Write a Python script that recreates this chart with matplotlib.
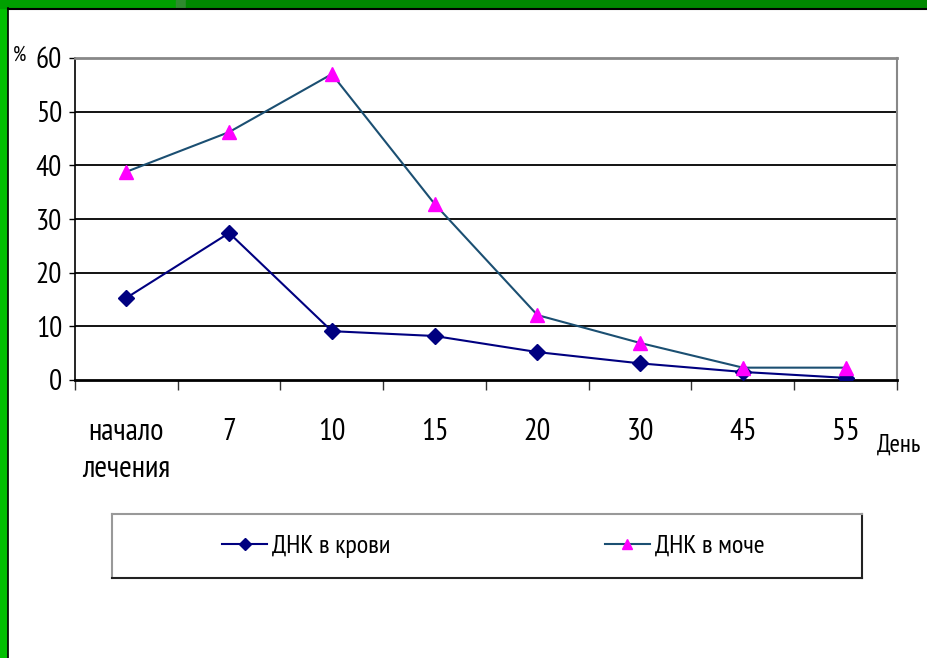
import matplotlib.pyplot as plt
import matplotlib.patches as patches

# data
categories = ["начало\nлечения", "7", "10", "15", "20", "30", "45", "55"]
blood = [15.3, 27.4, 9.1, 8.2, 5.2, 3.1, 1.5, 0.4]
urine = [38.8, 46.2, 57.0, 32.8, 12.1, 6.9, 2.3, 2.3]
yticks = [0, 10, 20, 30, 40, 50, 60]

plt.rcParams['font.family'] = ['PT Sans Narrow', 'DejaVu Sans']

W, H = 928, 658
fig = plt.figure(figsize=(W / 100, H / 100), dpi=100)
fig.patch.set_facecolor("white")

# green slide frame
fig.add_artist(patches.Rectangle((0, 0), 7 / W, 1, transform=fig.transFigure, color="#00C000", zorder=0))
fig.add_artist(patches.Rectangle((0, 1 - 8 / H), 176 / W, 8 / H, transform=fig.transFigure, color="#00A000", zorder=0))
fig.add_artist(patches.Rectangle((176 / W, 1 - 8 / H), 10 / W, 8 / H, transform=fig.transFigure, color="#2E8B2E", zorder=0))
fig.add_artist(patches.Rectangle((186 / W, 1 - 8 / H), 1, 8 / H, transform=fig.transFigure, color="#008800", zorder=0))
fig.add_artist(plt.Line2D([7.5 / W, 7.5 / W], [0, 1 - 8 / H], transform=fig.transFigure, color="black", lw=1.2))
fig.add_artist(plt.Line2D([7.5 / W, 1], [1 - 8.5 / H, 1 - 8.5 / H], transform=fig.transFigure, color="black", lw=1.5))

# plot area
x0, x1, ytop, ybot = 75, 897, 58, 380
ax = fig.add_axes([x0 / W, 1 - ybot / H, (x1 - x0) / W, (ybot - ytop) / H])
x = list(range(len(categories)))
ax.plot(x, blood, color="#000080", lw=1.5, marker="D", ms=8, mfc="#000080", mec="#000080",
        label="ДНК в крови", zorder=3)
ax.plot(x, urine, color="#1B4F72", lw=1.5, marker="^", ms=10, mfc="#FF00FF", mec="#FF00FF",
        label="ДНК в моче", zorder=3)

ax.set_xlim(-0.5, len(categories) - 0.5)
ax.set_ylim(0, 60)
ax.set_yticks(yticks)
ax.set_yticklabels([str(v) for v in yticks], fontsize=21)
for v in yticks[1:-1]:
    ax.axhline(v, color="black", lw=1.3, zorder=1)

ax.set_xticks([i - 0.5 for i in range(len(categories) + 1)], minor=False)
ax.set_xticklabels([])
ax.set_xticks(x, minor=True)
ax.set_xticklabels(categories, minor=True, fontsize=22, linespacing=1.45, va="top")
ax.tick_params(axis="x", which="minor", length=0, pad=27)
ax.tick_params(axis="x", which="major", length=7, width=1, color="#333333", direction="out")
ax.tick_params(axis="y", length=4.3, width=1, pad=5)

ax.spines["top"].set_color("#888888")
ax.spines["top"].set_linewidth(2)
ax.spines["right"].set_color("#888888")
ax.spines["right"].set_linewidth(1.5)
ax.spines["bottom"].set_linewidth(2)
ax.spines["left"].set_linewidth(1.2)

fig.text(13 / W, 1 - 55 / H, "%", fontsize=15, va="center", ha="left")
fig.text(877 / W, 1 - 445 / H, "День", fontsize=18, va="center", ha="left")

# legend box
lax = fig.add_axes([112 / W, 1 - 578 / H, 750 / W, 64 / H])
lax.set_xticks([])
lax.set_yticks([])
for s in ["left", "top"]:
    lax.spines[s].set_color("#999999")
    lax.spines[s].set_linewidth(1.5)
for s in ["right", "bottom"]:
    lax.spines[s].set_color("#222222")
    lax.spines[s].set_linewidth(1.5)
h, l = ax.get_legend_handles_labels()
leg1 = lax.legend([h[0]], [l[0]], loc="center left", bbox_to_anchor=(0.147, 0.5), frameon=False,
                  fontsize=19, borderpad=0, borderaxespad=0, handlelength=1.7, handletextpad=0.2,
                  markerscale=0.75)
lax.add_artist(leg1)
lax.legend([h[1]], [l[1]], loc="center left", bbox_to_anchor=(0.657, 0.5), frameon=False,
           fontsize=19, borderpad=0, borderaxespad=0, handlelength=1.7, handletextpad=0.2,
           markerscale=0.75)

fig.savefig("out.png", dpi=100)
